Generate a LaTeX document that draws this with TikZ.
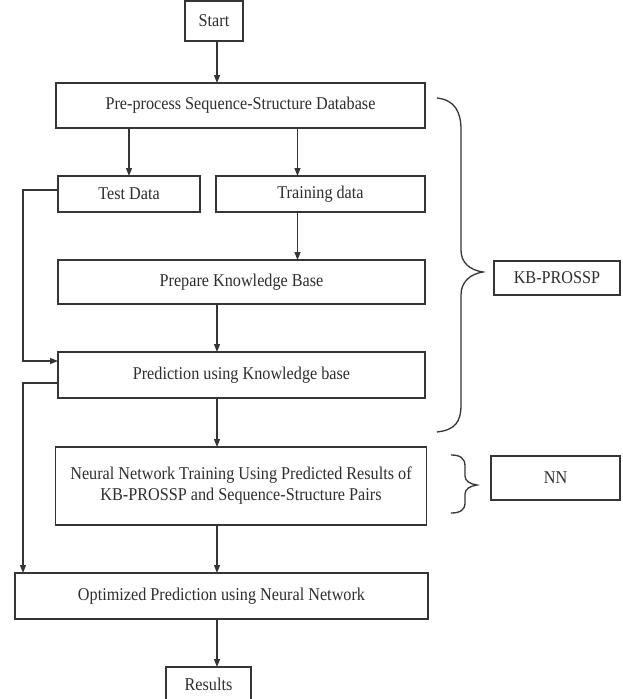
\documentclass[tikz,border=0pt]{standalone}
\usepackage{fontspec}
\setmainfont{Liberation Serif}[FakeStretch=0.9]
\usetikzlibrary{arrows.meta}
\definecolor{linegray}{HTML}{353535}
\tikzstyle{stepbox}=[rectangle,draw=linegray,line width=1.3pt,fill=white,
                     inner sep=0pt,outer sep=0pt,align=center,
                     font=\fontsize{18}{21}\selectfont,text=black!82]
\tikzstyle{flow}=[draw=linegray,line width=1.3pt,
                  -{Triangle[length=8pt,width=6pt]}]
\tikzstyle{curly}=[draw=linegray,line width=1.3pt]

\begin{document}
\begin{tikzpicture}[x=1pt,y=-1pt]
    \useasboundingbox (0,0) rectangle (622,699);
    \coordinate (spine) at (217,0);
    \coordinate (lx) at (23,0);
    % main column
    \node (start) at (214,21) [stepbox,minimum width=58,minimum height=40]{Start};
    \node (prep) at (240.5,105.5) [stepbox,minimum width=369,minimum height=45]
          {Pre-process Sequence-Structure Database};
    \node (test) at (129,194) [stepbox,minimum width=142,minimum height=36]{Test Data};
    \node (train) at (320.5,194) [stepbox,minimum width=209,minimum height=36]{Training data};
    \node (kb) at (241.5,282) [stepbox,minimum width=367,minimum height=44]
          {Prepare Knowledge Base};
    \node (pred) at (241.5,375) [stepbox,minimum width=367,minimum height=46]
          {Prediction using Knowledge base};
    \node (nntrain) at (241,486) [stepbox,minimum width=371,minimum height=78]
          {Neural Network Training Using Predicted Results of\\
           KB-PROSSP and Sequence-Structure Pairs};
    \node (opt) at (221.5,596) [stepbox,minimum width=413,minimum height=46]
          {Optimized Prediction using Neural Network};
    \node (res) at (208.5,684) [stepbox,minimum width=85,minimum height=34]{Results};
    % side labels
    \node (kbp) at (557,278) [stepbox,minimum width=126,minimum height=34]{KB-PROSSP};
    \node (nn) at (555.5,478) [stepbox,minimum width=129,minimum height=44]{NN};

    \draw[flow] (start.south -| spine) -- (prep.north -| spine);
    \draw[flow] (prep.south -| test) -- (test.north);
    \draw[flow] ([xshift=-23pt]train.north |- prep.south) -- ([xshift=-23pt]train.north);
    \draw[flow] ([xshift=-23pt]train.south) -- ([xshift=-23pt]train.south |- kb.north);
    \draw[flow] (kb.south -| spine) -- (pred.north -| spine);
    \draw[flow] (pred.south -| spine) -- (nntrain.north -| spine);
    \draw[flow] (nntrain.south -| spine) -- (opt.north -| spine);
    \draw[flow] (opt.south -| spine) -- (res.north -| spine);
    \draw[flow] ([yshift=4pt]test.west) -- ([yshift=4pt]test.west -| lx)
                |- ([yshift=14pt]pred.west);
    \draw[flow] ([yshift=-8pt]pred.west) -- ([yshift=-8pt]pred.west -| lx)
                -- (lx |- opt.north);

    % braces
    \draw[curly] (437,98) .. controls (455,100) and (461,112) .. (461,130)
        -- (461,250) .. controls (461,263) and (470,270) .. (483,272)
        .. controls (470,274) and (461,282) .. (461,295)
        -- (461,405) .. controls (461,422) and (455,430) .. (437,432);
    \draw[curly] (451,455) .. controls (460,455) and (465,458) .. (465,466)
        -- (465,476) .. controls (465,481) and (470,484) .. (477,485)
        .. controls (470,486) and (465,489) .. (465,494)
        -- (465,503) .. controls (465,510) and (460,513) .. (451,513);
\end{tikzpicture}
\end{document}
